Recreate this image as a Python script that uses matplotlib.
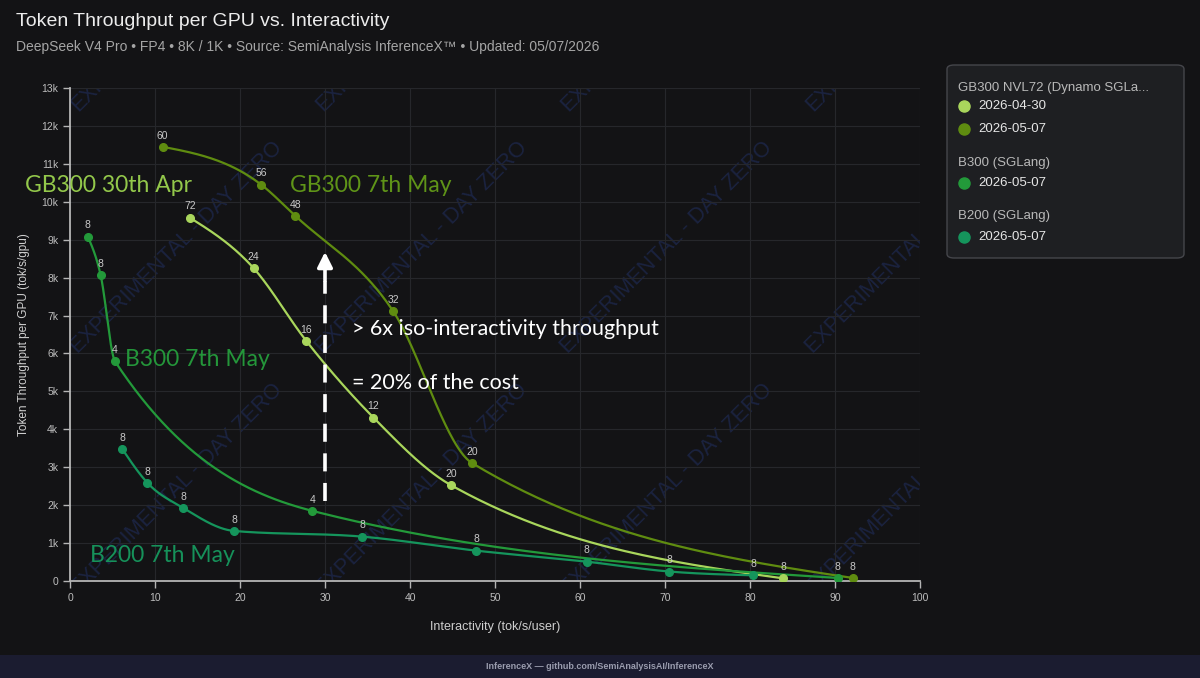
import numpy as np
import matplotlib
matplotlib.use("Agg")
import matplotlib.pyplot as plt
from matplotlib.patches import FancyBboxPatch, Rectangle

# ---------------- data ----------------
gb300_0430_x = [14.1, 21.6, 27.8, 35.7, 44.8, 83.9]
gb300_0430_y = [9580, 8250, 6330, 4310, 2530, 70]
gb300_0430_lbl = [72, 24, 16, 12, 20, 8]

gb300_0507_x = [10.9, 22.5, 26.5, 38.0, 47.3, 92.1]
gb300_0507_y = [11450, 10450, 9630, 7120, 3110, 80]
gb300_0507_lbl = [60, 56, 48, 32, 20, 8]

b300_x = [2.1, 3.6, 5.3, 28.5, 90.3]
b300_y = [9080, 8070, 5790, 1850, 80]
b300_lbl = [8, 8, 4, 4, 8]

b200_x = [6.15, 9.1, 13.3, 19.3, 34.4, 47.8, 60.8, 70.5, 80.4]
b200_y = [3480, 2590, 1930, 1320, 1170, 800, 510, 250, 150]
b200_lbl = [8, 8, 8, 8, 8, 8, 8, 8, 8]

x_ticks = [0, 10, 20, 30, 40, 50, 60, 70, 80, 90, 100]
y_ticks = list(range(0, 14000, 1000))
y_tick_labels = ["0"] + [f"{i}k" for i in range(1, 14)]

C_0430 = "#a9d65c"
C_0507 = "#5f8c10"
C_B300 = "#239a3a"
C_B200 = "#15955c"

BG = "#131315"
FONT = "Liberation Sans"


def monotone(xs, ys, n=60):
    x = np.asarray(xs, float)
    y = np.asarray(ys, float)
    h = np.diff(x)
    s = np.diff(y) / h
    m = np.zeros_like(x)
    for i in range(1, len(x) - 1):
        p = (s[i - 1] * h[i] + s[i] * h[i - 1]) / (h[i - 1] + h[i])
        m[i] = (np.sign(s[i - 1]) + np.sign(s[i])) * min(abs(s[i - 1]), abs(s[i]), 0.5 * abs(p))
    if len(x) > 2:
        m[0] = (3 * s[0] - m[1]) / 2
        m[-1] = (3 * s[-1] - m[-2]) / 2
    else:
        m[0] = m[-1] = s[0]
    px, py = [], []
    for i in range(len(x) - 1):
        t = np.linspace(0, 1, n)
        h00 = 2 * t**3 - 3 * t**2 + 1
        h10 = t**3 - 2 * t**2 + t
        h01 = -2 * t**3 + 3 * t**2
        h11 = t**3 - t**2
        px.append(x[i] + t * h[i])
        py.append(h00 * y[i] + h10 * h[i] * m[i] + h01 * y[i + 1] + h11 * h[i] * m[i + 1])
    return np.concatenate(px), np.concatenate(py)


plt.rcParams["font.family"] = [FONT, "DejaVu Sans"]
fig = plt.figure(figsize=(12, 6.78), dpi=100, facecolor=BG)
W, H = 1200, 678
ax = fig.add_axes([70 / W, 1 - 581 / H, 850 / W, 493 / H], facecolor=BG)

ax.set_xlim(0, 100)
ax.set_ylim(0, 13000)
ax.set_xticks(x_ticks)
ax.set_yticks(y_ticks)
ax.set_yticklabels(y_tick_labels)
ax.grid(True, color="#26272b", lw=0.8)
ax.set_axisbelow(True)
for sp in ["top", "right"]:
    ax.spines[sp].set_visible(False)
for sp in ["left", "bottom"]:
    ax.spines[sp].set_color("#b5b5b5")
    ax.spines[sp].set_linewidth(1.3)
ax.tick_params(colors="#b5b5b5", labelcolor="#bdbdbd", labelsize=7.5, length=5, width=1, direction="out")
ax.set_xlabel("Interactivity (tok/s/user)", color="#cfcfcf", fontsize=9, labelpad=13)
ax.set_ylabel("Token Throughput per GPU (tok/s/gpu)", color="#cfcfcf", fontsize=8.5, labelpad=8)

# watermark
for xf in [0.014, 0.302, 0.590, 0.878]:
    for yf, txt in [(0.945, "EXP"), (0.454, "EXPERIMENTAL - DAY ZERO"), (-0.037, "EXPERIMENTAL - DAY ZERO")]:
        ax.text(xf, yf, txt, transform=ax.transAxes, rotation=45,
                rotation_mode="anchor", ha="left", va="bottom", fontsize=15.5,
                color="#1b2340", clip_on=True, zorder=0.5)

series = [
    (gb300_0430_x, gb300_0430_y, gb300_0430_lbl, C_0430),
    (gb300_0507_x, gb300_0507_y, gb300_0507_lbl, C_0507),
    (b300_x, b300_y, b300_lbl, C_B300),
    (b200_x, b200_y, b200_lbl, C_B200),
]
for xs, ys, lbls, c in series:
    cx, cy = monotone(xs, ys)
    ax.plot(cx, cy, color=c, lw=1.6, zorder=3, solid_capstyle="round")
    ax.plot(xs, ys, "o", color=c, ms=5.5, zorder=4)
    for xv, yv, lb in zip(xs, ys, lbls):
        ax.annotate(str(lb), (xv, yv), xytext=(0, 4.5), textcoords="offset points",
                    ha="center", va="bottom", fontsize=7.5, color="#c9c9c9", zorder=5)

# arrow annotation
ax.plot([30, 30], [2100, 7900], color="white", lw=2.6, linestyle=(0, (5, 3.2)), zorder=6)
ax.annotate("", xy=(30, 8750), xytext=(30, 7850),
            arrowprops=dict(arrowstyle="-|>,head_length=0.9,head_width=0.45", color="white", lw=2.6),
            zorder=6)

hand = ["Lato", "DejaVu Sans"]
ax.text(33.2, 6650, "> 6x iso-interactivity throughput", color="white", fontsize=15.5,
        family=hand, va="center", ha="left", zorder=6)
ax.text(33.2, 5220, "= 20% of the cost", color="white", fontsize=15.5,
        family=hand, va="center", ha="left", zorder=6)

fig.text(25 / W, 1 - 186 / H, "GB300 30th Apr", color="#93c84b", fontsize=16.5, family=hand, va="center")
fig.text(290 / W, 1 - 186 / H, "GB300 7th May", color="#5f9418", fontsize=16.5, family=hand, va="center")
fig.text(125 / W, 1 - 359 / H, "B300 7th May", color="#24963a", fontsize=16.5, family=hand, va="center")
fig.text(90 / W, 1 - 555 / H, "B200 7th May", color="#16915a", fontsize=16.5, family=hand, va="center")

# titles
fig.text(16 / W, 1 - 22 / H, "Token Throughput per GPU vs. Interactivity", color="#ececec",
         fontsize=14, va="center", ha="left")
fig.text(16 / W, 1 - 47 / H, "DeepSeek V4 Pro \u2022 FP4 \u2022 8K / 1K \u2022 Source: SemiAnalysis InferenceX\u2122 \u2022 Updated: 05/07/2026",
         color="#a5a5a5", fontsize=10, va="center", ha="left")

# legend box
lx0, ly0, lx1, ly1 = 947, 65, 1184, 258
fig.patches.append(FancyBboxPatch((lx0 / W, 1 - ly1 / H), (lx1 - lx0) / W, (ly1 - ly0) / H,
                                  boxstyle="round,pad=0,rounding_size=0.006",
                                  transform=fig.transFigure, facecolor="#1e1f22",
                                  edgecolor="#45464b", lw=1.0))
leg_items = [
    ("head", 88, "GB300 NVL72 (Dynamo SGLa...", None),
    ("item", 106, "2026-04-30", C_0430),
    ("item", 129, "2026-05-07", C_0507),
    ("head", 163, "B300 (SGLang)", None),
    ("item", 183, "2026-05-07", C_B300),
    ("head", 216, "B200 (SGLang)", None),
    ("item", 237, "2026-05-07", C_B200),
]
for kind, yy, txt, c in leg_items:
    if kind == "head":
        fig.text(958 / W, 1 - yy / H, txt, color="#b9b9b9", fontsize=9.5, va="center", ha="left")
    else:
        fig.lines.append(plt.Line2D([964 / W], [1 - yy / H], marker="o", ms=8, color=c,
                                    transform=fig.transFigure))
        fig.text(978 / W, 1 - yy / H, txt, color="#e6e6e6", fontsize=9.5, va="center", ha="left")

# footer
fig.patches.append(Rectangle((0, 0), 1, 23 / H, transform=fig.transFigure, facecolor="#1b1c30",
                             edgecolor="none"))
fig.text(0.5, 11.5 / H, "InferenceX \u2014 github.com/SemiAnalysisAI/InferenceX", color="#9a9cae",
         fontsize=6.5, weight="bold", ha="center", va="center")

fig.savefig("out.png", dpi=100, facecolor=BG)
